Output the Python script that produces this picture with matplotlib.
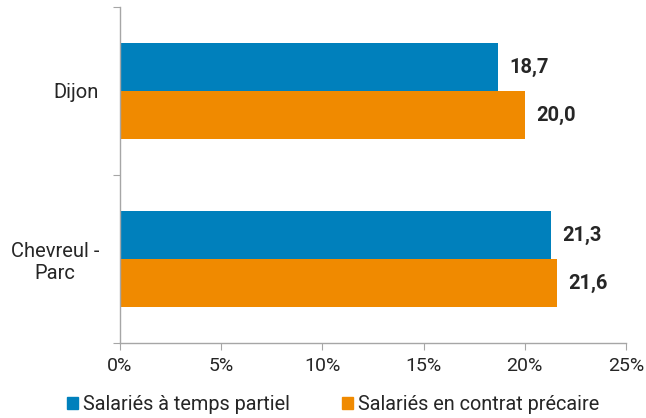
import numpy as np
import matplotlib.pyplot as plt
from matplotlib.ticker import FuncFormatter
from matplotlib.patches import Patch

plt.rcParams['font.family'] = ['Roboto', 'DejaVu Sans']

communes = ['Dijon', 'Chevreul -\nParc']
series_names = ['Salariés à temps partiel', 'Salariés en contrat précaire']
temps_partiel = [18.7, 21.3]
contrat_precaire = [20.0, 21.6]
couleurs = ['#0080BC', '#F08A00']

fig = plt.figure(figsize=(6.46, 4.18), dpi=100)
ax = fig.add_axes([120 / 646, 1 - 343 / 418, 506 / 646, 336 / 418])

centres = np.arange(len(communes)) + 0.5
h = 0.286
barres = [
    ax.barh(centres - h / 2, temps_partiel, height=h, color=couleurs[0]),
    ax.barh(centres + h / 2, contrat_precaire, height=h, color=couleurs[1]),
]
for b in barres:
    for rect in b:
        v = rect.get_width()
        ax.annotate('{:.1f}'.format(v).replace('.', ','),
                    (v, rect.get_y() + rect.get_height() / 2),
                    xytext=(11, 0), textcoords='offset pixels',
                    va='center', ha='left', fontsize=14.5, fontweight='bold', color='#262626')

ax.set_xlim(0, 25)
ax.set_ylim(len(communes), 0)
ax.set_xticks(np.arange(0, 26, 5))
ax.xaxis.set_major_formatter(FuncFormatter(lambda x, p: '{:d}%'.format(int(x))))
ax.set_yticks(np.arange(len(communes) + 1))
ax.set_yticklabels([])
ax.set_yticks(centres, minor=True)
ax.set_yticklabels(communes, minor=True, ha='right', multialignment='center',
                   fontsize=14.5, color='#262626')
ax.tick_params(axis='y', which='minor', length=0, pad=15)
ax.tick_params(axis='y', which='major', length=5, color='#A6A6A6')
ax.tick_params(axis='x', length=5, color='#A6A6A6', labelsize=14, labelcolor='#262626', pad=5)

for s in ['top', 'right']:
    ax.spines[s].set_visible(False)
for s in ['left', 'bottom']:
    ax.spines[s].set_color('#A6A6A6')
    ax.spines[s].set_linewidth(1)

poignees = [Patch(color=c) for c in couleurs]
fig.legend(poignees, series_names, loc='center', bbox_to_anchor=(333 / 646, 1 - 405 / 418),
           ncol=2, frameon=False, fontsize=14.3, handlelength=0.55, handleheight=0.55,
           handletextpad=0.25, columnspacing=2.6, labelcolor='#262626',
           borderpad=0, borderaxespad=0)

fig.savefig('out.png', dpi=100)
